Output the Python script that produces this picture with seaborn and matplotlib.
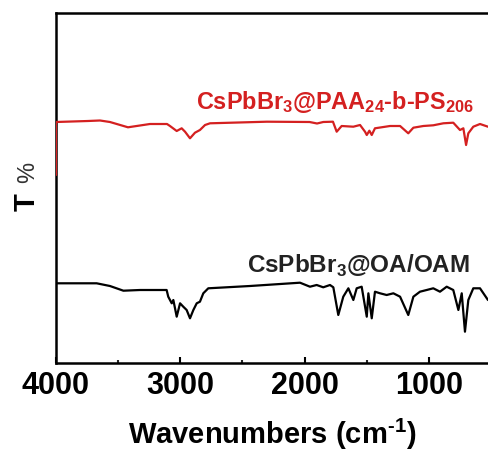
import numpy as np
import pandas as pd
import matplotlib
matplotlib.use('Agg')
import matplotlib.pyplot as plt
import seaborn as sns
from matplotlib.ticker import MultipleLocator

# FTIR spectra (arbitrary transmittance units)
red_wn = [4000, 4000, 3743, 3646, 3566, 3421, 3244, 3107, 3083, 3029, 2989, 2962,
          2922, 2882, 2842, 2801, 2761, 2303, 1960, 1900, 1850, 1772, 1742, 1702,
          1608, 1554, 1514, 1500, 1479, 1460, 1434, 1313, 1232, 1166, 1125, 1045,
          965, 884, 804, 750, 723, 701, 683, 643, 589, 525, 480, 420]
red_t = [188, 241, 242, 242.5, 241, 235.7, 239, 239, 237, 232, 234.7, 231.3,
         224.7, 230.3, 233, 238, 239.7, 241.3, 241, 239.5, 241, 241.3, 231.3, 237,
         236.3, 238, 231.3, 228, 232.3, 228, 234.7, 237, 237, 229.7, 235.3, 237,
         237.7, 239.7, 240.3, 233, 234.7, 218, 229.7, 236.3, 239, 236.3, 237, 237]

black_wn = [4000, 3673, 3566, 3458, 3324, 3110, 3097, 3069, 3056, 3029, 3002, 2976,
            2949, 2922, 2895, 2868, 2842, 2815, 2775, 2439, 2037, 1957, 1903, 1850,
            1796, 1769, 1729, 1689, 1648, 1608, 1581, 1541, 1500, 1487, 1460, 1434,
            1393, 1340, 1286, 1232, 1166, 1125, 1072, 1018, 965, 911, 857, 804,
            763, 736, 710, 683, 643, 589, 525, 480, 420]
black_t = [79.7, 79.7, 77, 72.3, 73, 73, 66.3, 59.7, 63, 46.3, 59.7, 56.3,
           53, 44.7, 53, 59.7, 61.3, 69.7, 74.7, 77, 80.3, 76.3, 78, 75.7,
           78, 75.7, 48, 66.3, 74.7, 63, 74.7, 76.3, 46.3, 69.7, 44.7, 71.3,
           69.7, 68, 69.7, 66.3, 48, 66.3, 71.3, 73, 74.7, 71.3, 76.3, 73,
           53, 69.7, 31.3, 63, 74.7, 74.7, 63, 66, 68]

red_label = r'CsPbBr$_\mathbf{3}$@PAA$_\mathbf{24}$-b-PS$_\mathbf{206}$'
black_label = r'CsPbBr$_\mathbf{3}$@OA/OAM'
x_label = r'Wavenumbers (cm$^{\text{-1}}$)'

sns.set_theme(style='white')
plt.rcParams['font.family'] = ['Liberation Sans', 'DejaVu Sans']
plt.rcParams['mathtext.fontset'] = 'custom'
plt.rcParams['mathtext.bf'] = 'Liberation Sans:bold'
plt.rcParams['mathtext.rm'] = 'Liberation Sans:bold'

red_df = pd.DataFrame({'wn': red_wn, 't': red_t})
black_df = pd.DataFrame({'wn': black_wn, 't': black_t})

fig = plt.figure(figsize=(4.88, 4.55), dpi=100)
ax = fig.add_axes([56 / 488, 92 / 455, 447.5 / 488, 350 / 455])

sns.lineplot(data=black_df, x='wn', y='t', sort=False, estimator=None,
             color='black', lw=1.6, ax=ax, zorder=3)
sns.lineplot(data=red_df, x='wn', y='t', sort=False, estimator=None,
             color='#d42020', lw=1.6, ax=ax, zorder=3)

ax.set_xlim(4000, 400)
ax.set_ylim(0, 350)

for sp in ax.spines.values():
    sp.set_color('black')
    sp.set_linewidth(1.8)

ax.xaxis.set_major_locator(MultipleLocator(1000))
ax.xaxis.set_minor_locator(MultipleLocator(500))
ax.tick_params(axis='x', which='major', direction='in', length=4, width=1.5,
               bottom=True, labelsize=22, pad=6, colors='black')
ax.tick_params(axis='x', which='minor', direction='in', length=2.5, width=1.5,
               bottom=True)
for lab in ax.get_xticklabels():
    lab.set_fontweight('bold')
ax.set_yticks([])

ax.set_xlabel(x_label, fontsize=21, fontweight='bold', color='black')
ax.xaxis.set_label_coords((272 - 56) / 447.5, -0.155)
ax.set_ylabel('')

fig.text(27 / 488, 1 - 202 / 455, 'T', rotation=90, fontsize=21, fontweight='bold',
         ha='center', va='center', color='black')
fig.text(28 / 488, 1 - 172 / 455, '%', rotation=90, fontsize=17,
         ha='center', va='center', color='#333333')

ax.text(1755, 254, red_label, color='#d42020', fontsize=16.9, fontweight='bold',
        ha='center', va='baseline')
ax.text(1570, 90, black_label, color='#222222', fontsize=17.5, fontweight='bold',
        ha='center', va='baseline')

fig.savefig('out.png', dpi=100)
